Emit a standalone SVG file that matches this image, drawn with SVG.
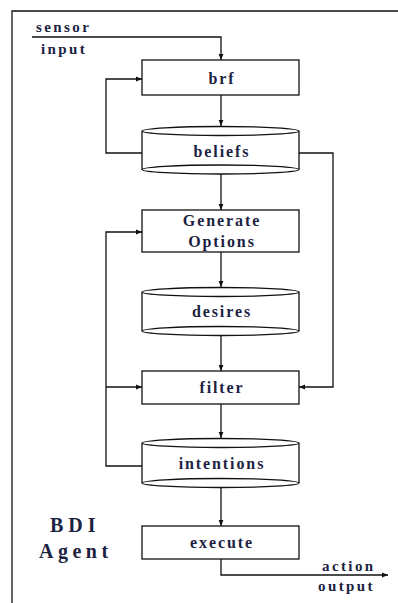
<svg xmlns="http://www.w3.org/2000/svg" width="398" height="603" viewBox="0 0 398 603">
<style>
.ln{fill:none;stroke:#111;stroke-width:1.3}
.bx{fill:#fff;stroke:#111;stroke-width:1.3}
.t{font-family:"Liberation Serif","Times New Roman",serif;font-weight:bold;fill:#1c2342;font-size:16px;letter-spacing:1.9px;text-anchor:middle}
.s{font-family:"Liberation Serif","Times New Roman",serif;font-weight:bold;fill:#1c2342;font-size:15px;letter-spacing:2.4px}
.b{font-family:"Liberation Serif","Times New Roman",serif;font-weight:bold;fill:#1c2342;font-size:20px}
</style>
<defs>
<marker id="ar" viewBox="0 0 10 10" refX="10" refY="5" markerWidth="6" markerHeight="6" orient="auto" markerUnits="userSpaceOnUse">
<path d="M0,1 L10,5 L0,9 Z" fill="#111"/>
</marker>
</defs>
<rect width="398" height="603" fill="#fff"/>
<g id="frame">
<path class="ln" d="M12,603 V11 H398" stroke-width="1.6"/>
</g>
<g id="connectors">
<path class="ln" d="M32,37 H221 V60" marker-end="url(#ar)"/>
<path class="ln" d="M221,95 V126" marker-end="url(#ar)"/>
<path class="ln" d="M142,153 H106 V79 H142" marker-end="url(#ar)"/>
<path class="ln" d="M299,153 H333 V387 H299" marker-end="url(#ar)"/>
<path class="ln" d="M221,174 V210" marker-end="url(#ar)"/>
<path class="ln" d="M142,466 H106 V232 H142" marker-end="url(#ar)"/>
<path class="ln" d="M106,387 H142" marker-end="url(#ar)"/>
<path class="ln" d="M221,252 V287" marker-end="url(#ar)"/>
<path class="ln" d="M221,336 V371" marker-end="url(#ar)"/>
<path class="ln" d="M221,404 V438" marker-end="url(#ar)"/>
<path class="ln" d="M221,488 V526" marker-end="url(#ar)"/>
<path class="ln" d="M221,559 V575 H388" marker-end="url(#ar)"/>
</g>
<g id="sensor-input">
<text class="s" x="36" y="32">sensor</text>
<text class="s" x="41" y="54">input</text>
</g>
<g id="brf">
<rect class="bx" x="142" y="60" width="157" height="35"/>
<text class="t" x="222" y="84">brf</text>
</g>
<g id="beliefs">
<path class="bx" d="M142,131 V169.5 A78.5,4.5 0 0 0 299,169.5 V131"/>
<ellipse class="bx" cx="220.5" cy="131" rx="78.5" ry="4.5"/>
<path class="ln" d="M142,169.5 A78.5,4.5 0 0 1 299,169.5"/>
<text class="t" x="222" y="157">beliefs</text>
</g>
<g id="generate-options">
<rect class="bx" x="142" y="210" width="157" height="42"/>
<text class="t" x="222" y="226">Generate</text>
<text class="t" x="222" y="247">Options</text>
</g>
<g id="desires">
<path class="bx" d="M142,292 V331 A78.5,4.5 0 0 0 299,331 V292"/>
<ellipse class="bx" cx="220.5" cy="292" rx="78.5" ry="4.5"/>
<path class="ln" d="M142,331 A78.5,4.5 0 0 1 299,331"/>
<text class="t" x="222" y="317">desires</text>
</g>
<g id="filter">
<rect class="bx" x="142" y="371" width="157" height="33"/>
<text class="t" x="222" y="393">filter</text>
</g>
<g id="intentions">
<path class="bx" d="M142,443 V483 A78.5,4.5 0 0 0 299,483 V443"/>
<ellipse class="bx" cx="220.5" cy="443" rx="78.5" ry="4.5"/>
<path class="ln" d="M142,483 A78.5,4.5 0 0 1 299,483"/>
<text class="t" x="222" y="469">intentions</text>
</g>
<g id="execute">
<rect class="bx" x="142" y="526" width="157" height="33"/>
<text class="t" x="222" y="548">execute</text>
</g>
<g id="action-output">
<text class="s" x="322" y="571">action</text>
<text class="s" x="318" y="591">output</text>
</g>
<g id="bdi-agent">
<text class="b" x="50" y="532" letter-spacing="5">BDI</text>
<text class="b" x="39" y="558" letter-spacing="4.5">Agent</text>
</g>
</svg>
